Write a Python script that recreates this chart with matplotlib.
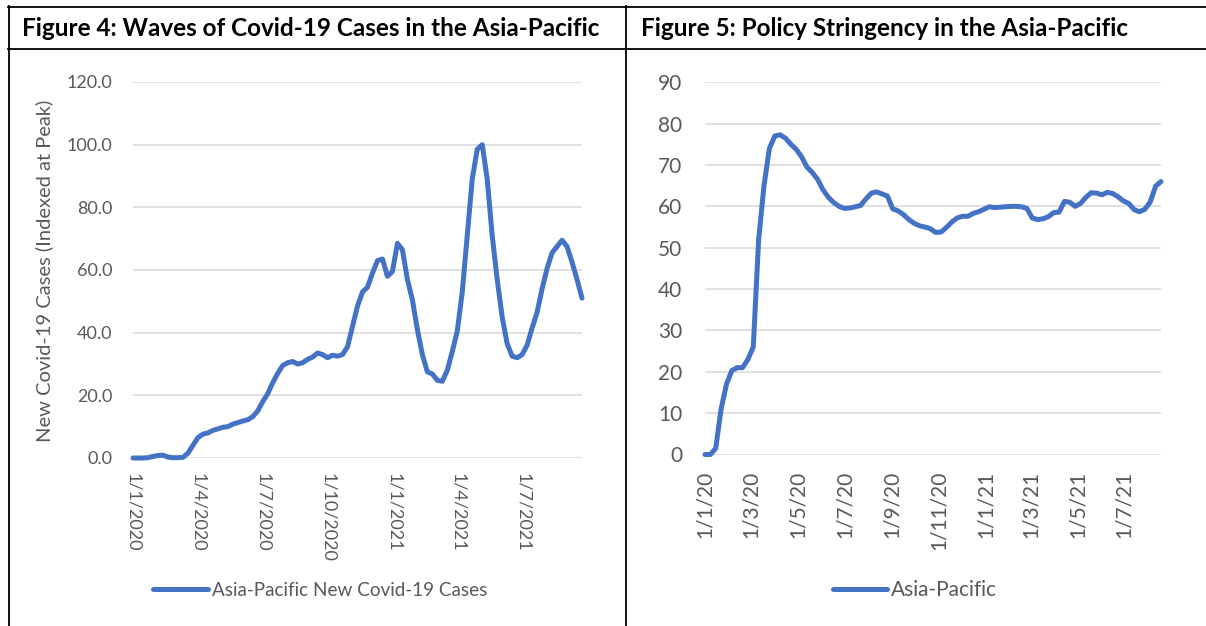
import datetime as dt

import matplotlib
matplotlib.use("Agg")
import matplotlib.pyplot as plt
from matplotlib.lines import Line2D

plt.rcParams['font.family'] = ['Lato', 'DejaVu Sans']

W, H = 1206, 626
BLUE = "#4472C4"
GREY = "#595959"
GRID = "#D9D9D9"

# ---- Figure 4: weekly new cases, indexed at peak (from 1 Jan 2020)
cases_start = dt.date(2020, 1, 1)
cases = [0, 0, 0, 0.1, 0.5, 0.8, 0.9, 0.3, 0.1, 0.1,
         0.2, 1.5, 4, 6.5, 7.6, 8, 8.8, 9.3, 9.8, 10,
         10.8, 11.3, 11.8, 12.2, 13.2, 15, 18, 20.5, 24, 27,
         29.5, 30.4, 30.8, 30, 30.4, 31.5, 32.2, 33.5, 33, 32,
         32.8, 32.5, 33, 35.5, 42, 48.5, 53, 54.5, 59, 63,
         63.5, 58, 59.5, 68.5, 66.5, 57, 50.5, 41, 33, 27.5,
         26.8, 24.8, 24.5, 28, 34, 40.5, 53, 71, 89, 98.5,
         100, 89, 71, 57, 45, 36.5, 32.5, 32, 33, 36,
         41.5, 46.5, 54, 60.5, 65.5, 67.5, 69.5, 67.5, 62.5, 57,
         51]
cases_ticklabels = ["1/1/2020", "1/4/2020", "1/7/2020", "1/10/2020",
                    "1/1/2021", "1/4/2021", "1/7/2021"]
cases_yticks = [0, 20, 40, 60, 80, 100, 120]

# ---- Figure 5: weekly stringency index (from 1 Jan 2020)
str_start = dt.date(2020, 1, 1)
stringency = [0, 0, 1.5, 11, 17, 20.3, 21, 21, 23, 26,
              52, 65, 74, 77, 77.3, 76.5, 75, 73.8, 72, 69.5,
              68.2, 66.5, 64, 62.2, 60.9, 60, 59.5, 59.6, 59.9, 60.2,
              61.8, 63.2, 63.5, 63, 62.5, 59.4, 58.9, 58, 56.8, 55.9,
              55.3, 55, 54.6, 53.7, 53.8, 54.9, 56.2, 57.2, 57.6, 57.6,
              58.3, 58.7, 59.3, 59.9, 59.7, 59.8, 59.9, 60, 60, 59.9,
              59.5, 57.2, 56.8, 57, 57.5, 58.5, 58.6, 61.2, 61, 60,
              60.7, 62.2, 63.3, 63.2, 62.8, 63.4, 63.1, 62.3, 61.3, 60.7,
              59.2, 58.7, 59.3, 61.1, 64.9, 66]
str_ticklabels = ["1/1/20", "1/3/20", "1/5/20", "1/7/20", "1/9/20",
                  "1/11/20", "1/1/21", "1/3/21", "1/5/21", "1/7/21"]
str_yticks = [0, 10, 20, 30, 40, 50, 60, 70, 80, 90]

titles = ["Figure 4: Waves of Covid-19 Cases in the Asia-Pacific",
          "Figure 5: Policy Stringency in the Asia-Pacific"]


def weekly(start, n):
    return [start + dt.timedelta(days=7 * i) for i in range(n)]


def px_axes(fig, left, top, right, bottom):
    return fig.add_axes([left / W, 1 - bottom / H, (right - left) / W, (bottom - top) / H])


def style(ax, fs, ypad, xpad, rot, ticklabels, fmt):
    for s in ax.spines.values():
        s.set_visible(False)
    ax.grid(axis='y', color=GRID, lw=1.1)
    ax.set_axisbelow(True)
    ticks = [dt.datetime.strptime(t, fmt) for t in ticklabels]
    ax.set_xticks(ticks)
    ax.set_xticklabels(ticklabels, rotation=rot, ha='center', va='top')
    ax.tick_params(axis='y', length=0, colors=GREY, labelsize=fs, pad=ypad)
    ax.tick_params(axis='x', length=0, colors=GREY, labelsize=fs, pad=xpad)


fig = plt.figure(figsize=(W / 100, H / 100), dpi=100)

# left chart
ax1 = px_axes(fig, 133, 82, 582, 458)
d1 = weekly(cases_start, len(cases))
ax1.plot(d1, cases, color=BLUE, lw=3.6, solid_capstyle='round', solid_joinstyle='round',
         label="Asia-Pacific New Covid-19 Cases", clip_on=False)
ax1.set_xlim(d1[0], d1[-1])
ax1.set_ylim(0, 120)
ax1.set_yticks(cases_yticks)
ax1.set_yticklabels([f"{v:.1f}" for v in cases_yticks])
style(ax1, 13, 15, 10.5, 270, cases_ticklabels, "%d/%m/%Y")
ax1.set_ylabel("New Covid-19 Cases (Indexed at Peak)", fontsize=14.5, color=GREY)
ax1.yaxis.set_label_coords((53 - 133) / 449, 0.497)
ax1.legend(loc='center left', bbox_to_anchor=(153 / W, 1 - 590 / H), bbox_transform=fig.transFigure,
           frameon=False, fontsize=13.6, labelcolor=GREY, handlelength=2.9, handletextpad=0.2,
           borderpad=0, borderaxespad=0)

# right chart
ax2 = px_axes(fig, 705, 82.3, 1161, 454.5)
d2 = weekly(str_start, len(stringency))
ax2.plot(d2, stringency, color=BLUE, lw=3.6, solid_capstyle='round', solid_joinstyle='round',
         label="Asia-Pacific", clip_on=False)
ax2.set_xlim(d2[0], d2[-1])
ax2.set_ylim(0, 90)
ax2.set_yticks(str_yticks)
style(ax2, 15, 16.5, 11.5, 90, str_ticklabels, "%d/%m/%y")
ax2.legend(loc='center left', bbox_to_anchor=(833 / W, 1 - 590 / H), bbox_transform=fig.transFigure,
           frameon=False, fontsize=15, labelcolor=GREY, handlelength=2.6, handletextpad=0.2,
           borderpad=0, borderaxespad=0)

# titles and table borders
fig.text(22 / W, 1 - 28 / H, titles[0], fontsize=17.5, fontweight='bold', va='center', ha='left')
fig.text(641 / W, 1 - 28 / H, titles[1], fontsize=17.5, fontweight='bold', va='center', ha='left')

for (x0, y0, x1, y1) in [(8, 7, W, 7), (8, 49, W, 49), (8.7, 6, 8.7, H), (625.8, 6, 625.8, H)]:
    fig.add_artist(Line2D([x0 / W, x1 / W], [1 - y0 / H, 1 - y1 / H], transform=fig.transFigure,
                          color='black', lw=1.3))

fig.savefig("out.png", dpi=100)
